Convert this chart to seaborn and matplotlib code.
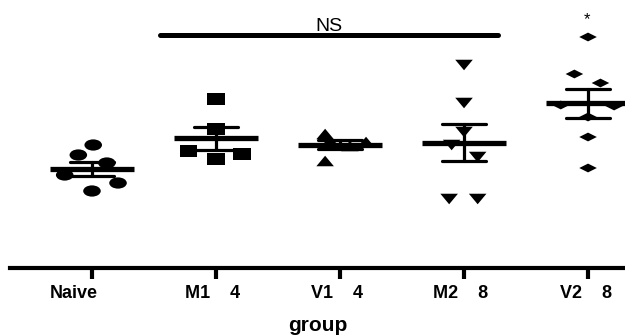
import numpy as np
import pandas as pd
import matplotlib
matplotlib.use("Agg")
import matplotlib.pyplot as plt
from matplotlib.path import Path
from matplotlib.transforms import ScaledTranslation
import seaborn as sns

# ---------------- data (arbitrary units) ----------------
groups = ["Naive", "M1 4", "V1 4", "M2 8", "V2 8"]
tick_labels = ["Naive", "M1    4", "V1    4", "M2    8", "V2    8"]

naive_vals = [155, 145, 137, 125, 117, 109]
m1_vals = [201, 171, 149, 146, 141]
v1_vals = [166, 158, 154, 159, 139]
m2_vals = [235, 197, 168, 155, 143, 101, 101]
v2_vals = [263, 226, 217, 195, 194, 183, 163, 132]

# horizontal spread of points within each group (category units)
naive_off = [0.01, -0.11, 0.12, -0.22, 0.21, 0.0]
m1_off = [0.0, 0.0, -0.22, 0.21, 0.0]
v1_off = [-0.12, 0.21, 0.08, -0.08, -0.12]
m2_off = [0.0, 0.0, 0.0, -0.10, 0.11, -0.12, 0.11]
v2_off = [0.0, -0.11, 0.10, -0.22, 0.21, 0.0, 0.0, 0.0]

sig_text = "NS"
star_text = "*"

# ---------------- build table ----------------
all_vals = [naive_vals, m1_vals, v1_vals, m2_vals, v2_vals]
all_offs = [naive_off, m1_off, v1_off, m2_off, v2_off]
rows = []
for gi, (g, vals, offs) in enumerate(zip(groups, all_vals, all_offs)):
    for v, o in zip(vals, offs):
        rows.append({"group": g, "gidx": gi, "xpos": gi + o, "value": v})
df = pd.DataFrame(rows)

# ---------------- marker shapes (wide, flat as in the reference) ----------------
circ = Path.unit_circle()
ellipse = Path(circ.vertices * np.array([1.0, 0.64]), circ.codes)
rect = Path([(-1, -0.64), (1, -0.64), (1, 0.64), (-1, 0.64), (-1, -0.64)],
            [Path.MOVETO, Path.LINETO, Path.LINETO, Path.LINETO, Path.CLOSEPOLY])
tri_up = Path([(-1, -0.6), (1, -0.6), (0, 0.6), (-1, -0.6)],
              [Path.MOVETO, Path.LINETO, Path.LINETO, Path.CLOSEPOLY])
tri_dn = Path([(-1, 0.6), (1, 0.6), (0, -0.6), (-1, 0.6)],
              [Path.MOVETO, Path.LINETO, Path.LINETO, Path.CLOSEPOLY])
diamond = Path([(-1, 0), (0, 0.5), (1, 0), (0, -0.5), (-1, 0)],
               [Path.MOVETO, Path.LINETO, Path.LINETO, Path.LINETO, Path.CLOSEPOLY])
marker_map = dict(zip(groups, [ellipse, rect, tri_up, tri_dn, diamond]))

# ---------------- plot ----------------
sns.set_theme(style="white")
plt.rcParams["font.family"] = ["Liberation Sans", "DejaVu Sans"]
plt.rcParams["text.color"] = "black"
plt.rcParams["axes.labelcolor"] = "black"
plt.rcParams["xtick.color"] = "black"

fig = plt.figure(figsize=(6.25, 3.35), dpi=100)
ax = fig.add_axes([10 / 625, 67 / 335, 615 / 625, 268 / 335])

sns.scatterplot(data=df, x="xpos", y="value", style="group", markers=marker_map,
                color="black", s=160, linewidth=0, legend=False, ax=ax, zorder=2)

sns.pointplot(data=df, x="gidx", y="value", native_scale=True, estimator="mean",
              errorbar="se", capsize=0.35, color="black", linestyle="none",
              marker="_", markersize=60, markeredgewidth=3.8,
              err_kws={"linewidth": 2.3}, ax=ax, zorder=3)

# significance annotation
ax.plot([0.548, 3.274], [265, 265], color="black", lw=3.6,
        solid_capstyle="round", zorder=4)
ax.text(1.91, 269, sig_text, ha="center", va="baseline", fontsize=14, color="black")
ax.text(3.99, 276, star_text, ha="center", va="baseline", fontsize=12, color="black")

ax.set_xlim(-0.661, 4.298)
ax.set_ylim(32, 300)
ax.set_xticks(range(len(groups)))
ax.set_xticklabels(tick_labels, fontsize=13, fontweight="bold", color="black")
ax.set_yticks([])
ax.set_ylabel("")
ax.set_xlabel("group", fontsize=15, fontweight="bold", labelpad=10, color="black")

for s in ["top", "right", "left"]:
    ax.spines[s].set_visible(False)
ax.spines["bottom"].set_linewidth(3)
ax.spines["bottom"].set_color("black")
ax.tick_params(axis="x", direction="out", length=8, width=3, color="black",
               labelcolor="black", pad=4, bottom=True)

shifts = [-18, -3, -3, -3, -2]
for lab, dx in zip(ax.get_xticklabels(), shifts):
    lab.set_transform(lab.get_transform() + ScaledTranslation(dx / 100, 0, fig.dpi_scale_trans))

fig.savefig("out.png", dpi=100)
